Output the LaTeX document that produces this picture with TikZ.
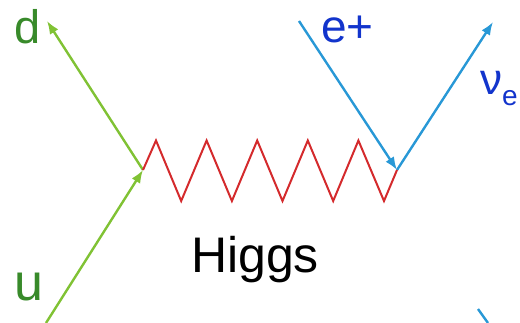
\documentclass[tikz,border=0pt]{standalone}
\usepackage{fontspec}
\setmainfont{Liberation Sans}
\usetikzlibrary{arrows.meta}
\definecolor{lgreen}{RGB}{128,194,52}
\definecolor{dgreen}{RGB}{56,138,42}
\definecolor{lblue}{RGB}{40,152,214}
\definecolor{dblue}{RGB}{18,52,204}
\definecolor{zred}{RGB}{212,42,44}
\tikzset{
  fermion/.style={line width=2.4pt, -{Latex[length=13pt,width=10pt]}},
  lbl/.style={anchor=base west, inner sep=0pt, outer sep=0pt},
}
\begin{document}
\begin{tikzpicture}[x=1pt,y=-1pt]
\useasboundingbox (0,0) rectangle (520,323);
% vertices and free ends
\coordinate (v1) at (143,170);
\coordinate (v2) at (397,170);
\coordinate (uin) at (46,323);
\coordinate (dout) at (47,21);
\coordinate (ein) at (299,21);
\coordinate (nout) at (493,22);
\coordinate (fa) at (478,309);
\coordinate (fb) at (488,323);
% fermion lines
\draw[fermion, lgreen] (uin) -- (v1);
\draw[fermion, lgreen] (v1) -- (dout);
\draw[fermion, lblue] (ein) -- (v2);
\draw[fermion, lblue] (v2) -- (nout);
\draw[line width=2.4pt, lblue] (fa) -- (fb);
% Higgs zigzag
\draw[zred, line width=2pt, line join=miter]
  (v1) -- (156,140.5) -- (181.2,201) -- (206.6,140.5) -- (231.9,201)
  -- (257.2,140.5) -- (282.5,201) -- (307.8,140.5) -- (333.2,201)
  -- (358.4,140.5) -- (384,201) -- (v2);
% labels
\node[lbl, text=dgreen, font=\fontsize{47}{47}\selectfont] (d) at (15,44) {d};
\node[lbl, text=dgreen, font=\fontsize{52}{52}\selectfont] (u) at (15,301) {u};
\node[lbl, text=dblue, font=\fontsize{46}{46}\selectfont] (e) at (321,43) {e+};
\node[lbl, text=dblue, font=\fontsize{44}{44}\selectfont] (nu) at (480,95) {ν\raisebox{-10.5pt}{\fontsize{28}{28}\selectfont e}};
\node[lbl, text=black, font=\fontsize{50}{50}\selectfont] (h) at (191,272.5) {Higgs};
\end{tikzpicture}
\end{document}
